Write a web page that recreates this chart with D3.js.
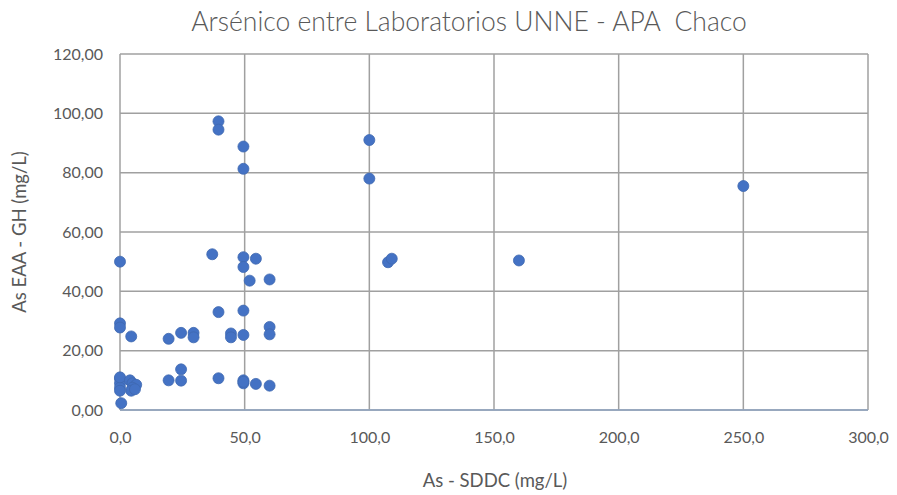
<!DOCTYPE html>
<html>
<head>
<meta charset="utf-8">
<script src="https://cdn.jsdelivr.net/npm/d3@7"></script>
<style>
  body { margin: 0; background: #fff; }
  text { font-family: Lato, "Open Sans", sans-serif; fill: #595959; }
</style>
</head>
<body>
<svg id="output"></svg>
<script>
// As - SDDC (x) vs As EAA - GH (y), mg/L
const sddc = [0, 0, 0, 0, 0, 0, 0, 0, 0.5, 4, 5, 6.5, 5, 4.5, 6, 4.5,
  19.5, 19.5, 24.5, 24.5, 24.5, 29.5, 29.5, 37, 39.5, 39.5, 39.5, 39.5,
  44.5, 44.5, 49.5, 49.5, 49.5, 49.5, 49.5, 49.5, 49.5, 49.5, 49.5,
  52, 54.5, 54.5, 60, 60, 60, 60, 100, 100, 107.5, 109, 160, 250];
const eaa = [50, 29.2, 27.8, 10.5, 9, 7.5, 6.5, 11, 2.3, 10, 9, 8.5, 7.5, 6.5, 7, 24.8,
  24, 10, 26, 13.7, 9.9, 26, 24.5, 52.5, 97.3, 94.5, 33, 10.7,
  25.8, 24.5, 88.8, 81.3, 51.5, 48.2, 33.5, 25.3, 10, 9, 9.5,
  43.6, 51, 8.8, 44, 28, 25.5, 8.2, 91, 78, 49.8, 51, 50.4, 75.5];

const xTicks = [0, 50, 100, 150, 200, 250, 300];
const yTicks = [0, 20, 40, 60, 80, 100, 120];

const chartTitle = "Arsénico entre Laboratorios UNNE - APA  Chaco";
const xTitle = "As - SDDC (mg/L)";
const yTitle = "As EAA - GH (mg/L)";

const width = 897, height = 495;
const margin = {left: 120, right: 29, top: 54, bottom: 85};

const svg = d3.select("#output")
  .attr("width", width)
  .attr("height", height);

const xScale = d3.scaleLinear()
  .domain([0, 300])
  .range([margin.left, width - margin.right]);

const yScale = d3.scaleLinear()
  .domain([0, 120])
  .range([height - margin.bottom, margin.top]);

const fmt = (dec) => (v) => v.toFixed(dec).replace(".", ",");

// gridlines
svg.append("g")
  .selectAll("line.vgrid")
  .data(xTicks)
  .enter()
  .append("line")
  .attr("x1", d => xScale(d)).attr("x2", d => xScale(d))
  .attr("y1", yScale(120)).attr("y2", yScale(0))
  .attr("stroke", "#a0a0a0").attr("stroke-width", 1.5);

svg.append("g")
  .selectAll("line.hgrid")
  .data(yTicks)
  .enter()
  .append("line")
  .attr("x1", xScale(0)).attr("x2", xScale(300))
  .attr("y1", d => yScale(d)).attr("y2", d => yScale(d))
  .attr("stroke", "#a0a0a0").attr("stroke-width", 1.5);

// axes (labels only, lines drawn by grid)
const xAxis = svg.append("g")
  .attr("transform", `translate(0,${yScale(0)})`)
  .call(d3.axisBottom(xScale).tickValues(xTicks).tickFormat(fmt(1)).tickSize(0).tickPadding(22));
xAxis.select(".domain").remove();
xAxis.selectAll("text").style("font-size", "16px").attr("fill", "#595959");

const yAxis = svg.append("g")
  .attr("transform", `translate(${xScale(0)},0)`)
  .call(d3.axisLeft(yScale).tickValues(yTicks).tickFormat(fmt(2)).tickSize(0).tickPadding(17));
yAxis.select(".domain").remove();
yAxis.selectAll("text").style("font-size", "16px").attr("fill", "#595959");

// bottom axis line
svg.append("line")
  .attr("x1", xScale(0)).attr("x2", xScale(300))
  .attr("y1", yScale(0)).attr("y2", yScale(0))
  .attr("stroke", "#8ea3c0").attr("stroke-width", 1.5);

// points
svg.append("g")
  .selectAll("circle")
  .data(sddc.map((x, i) => [x, eaa[i]]))
  .enter()
  .append("circle")
  .attr("cx", d => xScale(d[0]))
  .attr("cy", d => yScale(d[1]))
  .attr("r", 5.5)
  .attr("fill", "#4472c4")
  .attr("stroke", "#3f68b0")
  .attr("stroke-width", 0.8);

// titles
svg.append("text")
  .attr("x", 469).attr("y", 31)
  .attr("text-anchor", "middle")
  .style("font-size", "26.5px")
  .style("font-weight", 300)
  .style("white-space", "pre")
  .text(chartTitle);

svg.append("text")
  .attr("x", 495).attr("y", 487)
  .attr("text-anchor", "middle")
  .style("font-size", "18.5px")
  .text(xTitle);

svg.append("text")
  .attr("transform", `translate(26,${yScale(60)}) rotate(-90)`)
  .attr("text-anchor", "middle")
  .style("font-size", "18.5px")
  .text(yTitle);
</script>
</body>
</html>
